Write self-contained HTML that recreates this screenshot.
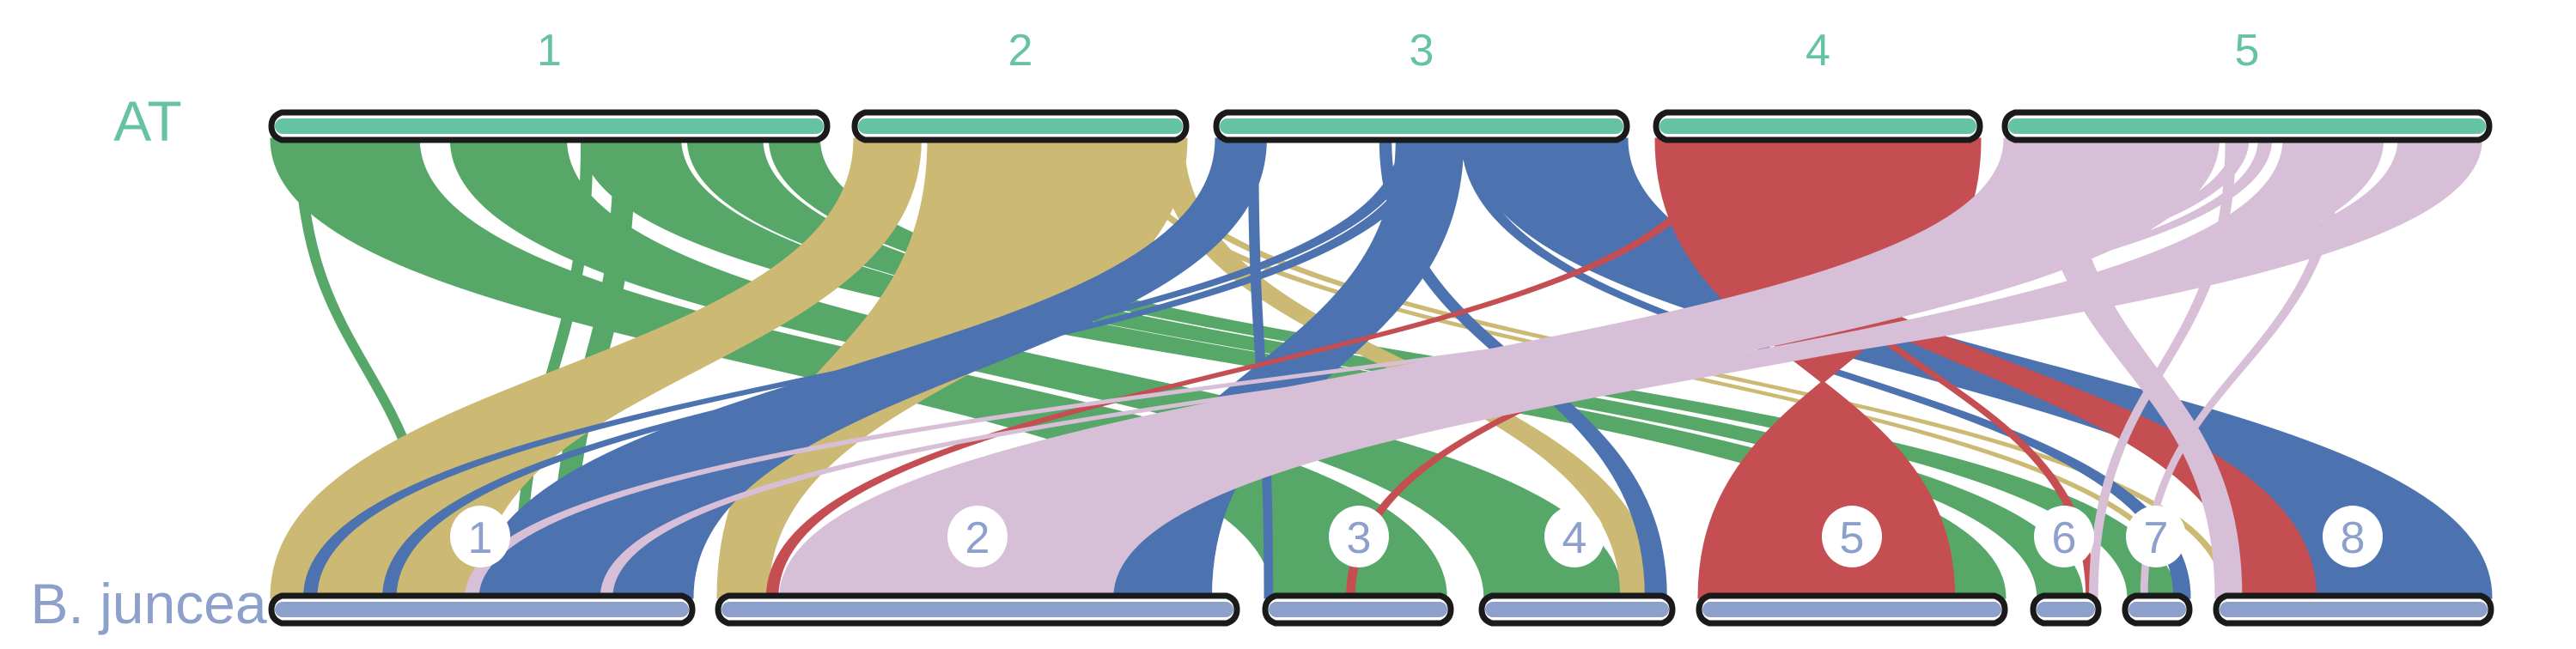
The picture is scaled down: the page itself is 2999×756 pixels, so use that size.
<!DOCTYPE html>
<html><head><meta charset="utf-8"><style>
html,body{margin:0;padding:0;background:#fff;}
svg{display:block;}
text{font-family:"Liberation Sans",sans-serif;}
</style></head><body>
<svg id="chart" width="2999" height="756" viewBox="0 0 2999 756" xmlns="http://www.w3.org/2000/svg">
<g id="links"></g>
<g id="bars"></g>
<text x="172" y="164" font-size="66" fill="#66c2a5" text-anchor="middle">AT</text>
<text x="173" y="726" font-size="66" fill="#8da0cb" text-anchor="middle">B. juncea</text>
</svg>
<script>
// chromosome lengths (arbitrary units)
const topChrNames = ['1','2','3','4','5'];
const topChrLen = [340,202,250,197,295];
const botChrNames = ['1','2','3','4','5','6','7','8'];
const botChrLen = [255,316,113,116,186,40,39,166];
// links: source chr index, start, end, target chr index, start, end
const linkSrc = [
 [0,0,90],[0,110,180],[0,190,250],[0,255,300],[0,305,335],[0,15,20],[0,190,196],[0,210,222],
 [1,0,40],[1,45,202],[1,185,200],[1,175,180],[1,160,164],
 [2,0,30],[2,112,120],[2,122,130],[2,110,150],[2,155,250],[2,20,25],[2,100,106],[2,150,156],
 [3,0,197],[3,30,45],[3,35,40],[3,130,135],[3,60,64],
 [4,0,130],[4,140,148],[4,155,162],[4,20,40],[4,135,140],[4,170,230],[4,240,290],[4,200,205]
];
const linkDst = [
 [2,5,110],[3,2,85],[4,155,186],[5,3,30],[6,2,30],[0,95,100],[0,148,153],[0,170,182],
 [0,0,125],[1,0,30],[3,85,105],[7,5,8],[6,32,35],
 [0,125,255],[0,20,27],[0,68,75],[1,240,300],[7,60,166],[2,0,4],[3,100,112],[6,30,39],
 [4,155,0],[7,15,60],[1,30,36],[2,50,54],[5,33,37],
 [1,38,235],[0,118,125],[0,200,206],[7,0,15],[5,35,39],[1,200,240],[1,120,160],[6,10,13]
];
const linkColor = ['#57a868','#ccb974','#4c72b0','#c44e52','#d8bfd8'];

// layout
const topX0 = [316,995,1416,1928,2334], topX1 = [963,1381,1894,2305,2898];
const botX0 = [316,836,1473,1725,1978,2367,2474,2580], botX1 = [806,1440,1689,1947,2334,2443,2549,2900];
const yTop = 147, yBot = 710, yT = 162, yB = 696;
const NS = 'http://www.w3.org/2000/svg';
function tx(c,v){return topX0[c]+(topX1[c]-topX0[c])*v/topChrLen[c];}
function bx(c,v){return botX0[c]+(botX1[c]-botX0[c])*v/botChrLen[c];}
const gl = document.getElementById('links');
const ym = (yT+yB)/2;
linkSrc.forEach((s,i)=>{
  const d = linkDst[i];
  const a0=tx(s[0],s[1]), a1=tx(s[0],s[2]), b0=bx(d[0],d[1]), b1=bx(d[0],d[2]);
  const p = document.createElementNS(NS,'path');
  p.setAttribute('d',`M${a0},${yT} C${a0},${ym} ${b0},${ym} ${b0},${yB} L${b1},${yB} C${b1},${ym} ${a1},${ym} ${a1},${yT} Z`);
  p.setAttribute('fill',linkColor[s[0]]);
  p.setAttribute('stroke',linkColor[s[0]]);
  p.setAttribute('stroke-width','3');
  
  
  gl.appendChild(p);
});
const gb = document.getElementById('bars');
function bar(x0,x1,y,col,name){
  const h=32, c=12;
  const p=document.createElementNS(NS,'path');
  p.setAttribute('d',`M${x0+c},${y-h/2} L${x1-c},${y-h/2} Q${x1},${y-h/2+4} ${x1},${y} Q${x1},${y+h/2-4} ${x1-c},${y+h/2} L${x0+c},${y+h/2} Q${x0},${y+h/2-4} ${x0},${y} Q${x0},${y-h/2+4} ${x0+c},${y-h/2} Z`);
  p.setAttribute('fill','#fff');p.setAttribute('stroke','#1a1a1a');p.setAttribute('stroke-width','7');p.setAttribute('stroke-linejoin','round');
  
  
  gb.appendChild(p);
  const r=document.createElementNS(NS,'rect');
  r.setAttribute('x',x0+4);r.setAttribute('y',y-9);r.setAttribute('width',x1-x0-8);r.setAttribute('height',18);r.setAttribute('rx',9);r.setAttribute('fill',col);
  
  
  gb.appendChild(r);
}
function label(x,y,t,col,name,circle){
  if(circle){
    const c=document.createElementNS(NS,'ellipse');
    c.setAttribute('cx',x);c.setAttribute('cy',y);c.setAttribute('rx',35);c.setAttribute('ry',36);c.setAttribute('fill','#fff');
    
    
    gb.appendChild(c);
  }
  const e=document.createElementNS(NS,'text');
  e.setAttribute('x',x);e.setAttribute('y',y+19);e.setAttribute('text-anchor','middle');e.setAttribute('font-size','52');e.setAttribute('fill',col);
  e.textContent=t;
  
  
  gb.appendChild(e);
}
topChrNames.forEach((n,i)=>{
  bar(topX0[i],topX1[i],yTop,'#66c2a5','top-chromosome-'+n);
  label((topX0[i]+topX1[i])/2,57,n,'#66c2a5','top-chromosome-label-'+n,false);
});
const botLabelX=[559,1138,1582,1833,2156,2403,2510,2739];
botChrNames.forEach((n,i)=>{
  bar(botX0[i],botX1[i],yBot,'#8da0cb','bottom-chromosome-'+n);
  label(botLabelX[i],625,n,'#8da0cb','bottom-chromosome-label-'+n,true);
});
</script>
</body></html>
